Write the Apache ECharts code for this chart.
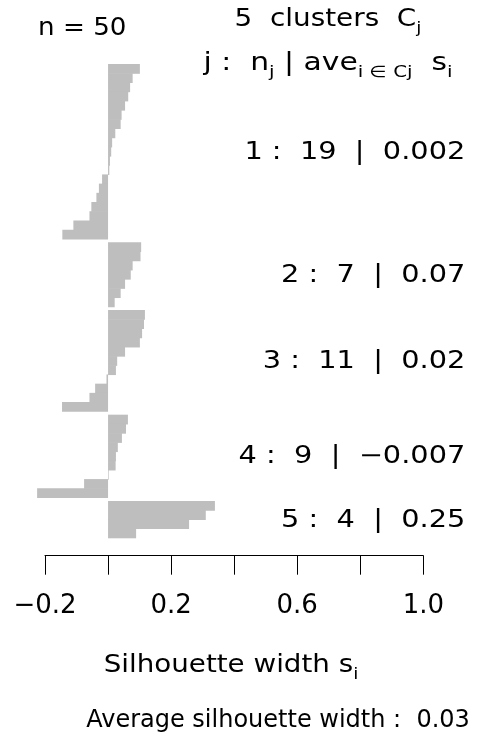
<!DOCTYPE html>
<html>
<head>
<meta charset="utf-8">
<script src="https://cdn.jsdelivr.net/npm/echarts@6/dist/echarts.min.js"></script>
<style>
html, body { margin: 0; padding: 0; background: #fff; }
#main { width: 493px; height: 748px; }
</style>
</head>
<body>
<div id="main"></div>
<script>
// silhouette widths, per cluster, sorted as drawn (top to bottom)
var cluster_1 = [0.101, 0.078, 0.070, 0.064, 0.054, 0.043, 0.040, 0.023, 0.013, 0.010, 0.006, 0.004,
                 -0.019, -0.029, -0.037, -0.053, -0.059, -0.110, -0.145];
var cluster_2 = [0.105, 0.103, 0.078, 0.072, 0.054, 0.040, 0.021];
var cluster_3 = [0.117, 0.114, 0.108, 0.101, 0.054, 0.029, 0.025, -0.005, -0.041, -0.059, -0.146];
var cluster_4 = [0.063, 0.057, 0.044, 0.031, 0.025, 0.024, 0.002, -0.076, -0.225];
var cluster_5 = [0.339, 0.310, 0.257, 0.089];

var clusters = [cluster_1, cluster_2, cluster_3, cluster_4, cluster_5];
var cluster_ids = ['1', '2', '3', '4', '5'];
var cluster_ave = ['0.002', '0.07', '0.02', '\u22120.007', '0.25'];
var overall_ave = '0.03';

var tick_values = [-0.2, 0.2, 0.6, 1.0];
var tick_labels = ['\u22120.2', '0.2', '0.6', '1.0'];

var gap = 0.37;   // space between clusters, in bar heights
var font = 'DejaVu Sans';

// 生成条形数据 [s_i, 位置]
var bar_data = [];
var cluster_mid = [];
var pos = 0;
clusters.forEach(function (c, k) {
    if (k > 0) pos += gap;
    var start = pos;
    c.forEach(function (v) {
        bar_data.push([v, pos]);
        pos += 1;
    });
    cluster_mid.push((start + pos) / 2);
});
var total = pos;

var chart = echarts.init(document.getElementById('main'));

var option = {
    animation: false,
    backgroundColor: '#fff',
    grid: { left: 45, right: 69.7, top: 64, bottom: 210.3 },
    xAxis: {
        type: 'value',
        position: 'bottom',
        min: -0.2,
        max: 1.0,
        interval: 0.2,
        offset: 18,
        splitLine: { show: false },
        axisLine: { show: true, onZero: false, lineStyle: { color: '#000', width: 1 } },
        axisTick: { show: true, length: 19, lineStyle: { color: '#000', width: 1 } },
        axisLabel: {
            margin: 38,
            color: '#000',
            fontFamily: font,
            fontSize: 26,
            showMinLabel: true,
            showMaxLabel: true,
            formatter: function (v) {
                for (var i = 0; i < tick_values.length; i++) {
                    if (Math.abs(v - tick_values[i]) < 1e-9) return tick_labels[i];
                }
                return '';
            }
        }
    },
    yAxis: {
        type: 'value',
        min: 0,
        max: total,
        inverse: true,
        show: false
    },
    series: [{
        type: 'custom',
        clip: false,
        data: bar_data,
        renderItem: function (params, api) {
            var v = api.value(0), p = api.value(1);
            var a = api.coord([0, p]);
            var b = api.coord([v, p + 1]);
            return {
                type: 'rect',
                shape: {
                    x: Math.min(a[0], b[0]),
                    y: a[1],
                    width: Math.max(Math.abs(b[0] - a[0]), 0.6),
                    height: b[1] - a[1] + 0.6
                },
                style: { fill: '#bebebe' }
            };
        }
    }]
};

chart.setOption(option);

// 文字标注
var rich = {
    s: { fontFamily: font, fontSize: 16, padding: [18, 0, 0, 0] }
};
function txt(x, y, text, align, sx) {
    return {
        type: 'text',
        x: x,
        y: y,
        scaleX: sx || 1,
        style: {
            text: text,
            fill: '#000',
            font: '24px "' + font + '"',
            align: align || 'center',
            verticalAlign: 'middle',
            rich: rich
        }
    };
}

var graphics = [
    txt(38, 29, 'n = 50', 'left', 1.09),
    txt(328, 20, '5  clusters  C{s|j}', 'center', 1.16),
    txt(328, 64, 'j :  n{s|j} | ave{s|i \u2208 Cj}  s{s|i}', 'center', 1.24),
    txt(231, 666, 'Silhouette width s{s|i}', 'center', 1.155),
    txt(278, 721, 'Average silhouette width :  ' + overall_ave, 'center', 1.0)
];

var right_x = chart.convertToPixel({ gridIndex: 0 }, [1.0, 0])[0] + 42;
clusters.forEach(function (c, k) {
    var y = chart.convertToPixel({ gridIndex: 0 }, [1.0, cluster_mid[k]])[1];
    graphics.push(txt(right_x, y + 1,
        cluster_ids[k] + ' :  ' + c.length + '  |  ' + cluster_ave[k], 'right', 1.2));
});

chart.setOption({ graphic: graphics });
</script>
</body>
</html>
